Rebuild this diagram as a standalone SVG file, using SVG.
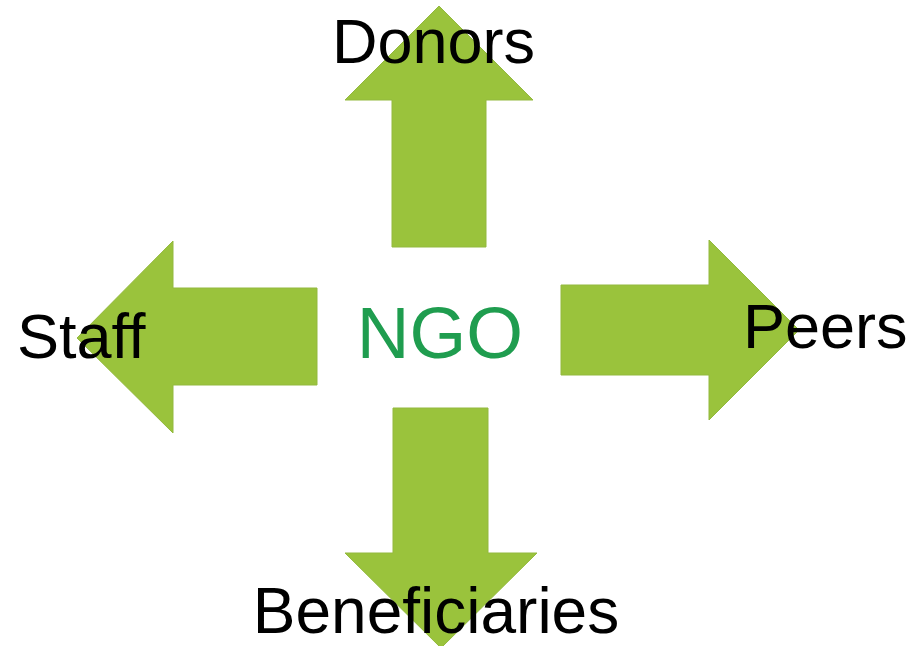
<svg xmlns="http://www.w3.org/2000/svg" width="913" height="646" viewBox="0 0 913 646">
<style>
.arrow{fill:#9ac33c;stroke:#93b93e;stroke-width:1}
.lbl{font-family:"Liberation Sans",Arial,sans-serif;font-size:63px;fill:#000}
.center{font-family:"Liberation Sans",Arial,sans-serif;font-size:73px;fill:#1f9d4f}
</style>
<rect width="913" height="646" fill="#fff"/>
<g id="connectors">
<polygon id="arrow-up" class="arrow" points="439,6 533,100 486,100 486,247 392,247 392,100 345,100"/>
<polygon id="arrow-left" class="arrow" points="77,338 173,241 173,288 317,288 317,385 173,385 173,433"/>
<polygon id="arrow-right" class="arrow" points="799,330 709,240 709,285 561,285 561,375 709,375 709,420"/>
<polygon id="arrow-down" class="arrow" points="441,648 537,553 488,553 488,408 393,408 393,553 345,553"/>
</g>
<g id="node-ngo"><text class="center" x="440" y="358" text-anchor="middle">NGO</text></g>
<g id="node-donors"><text class="lbl" x="433.5" y="63" text-anchor="middle">Donors</text></g>
<g id="node-staff"><text class="lbl" x="17" y="358">Staff</text></g>
<g id="node-peers"><text class="lbl" x="743" y="348">Peers</text></g>
<g id="node-beneficiaries"><text class="lbl" x="436" y="633" text-anchor="middle" style="font-size:64px">Beneficiaries</text></g>
</svg>
